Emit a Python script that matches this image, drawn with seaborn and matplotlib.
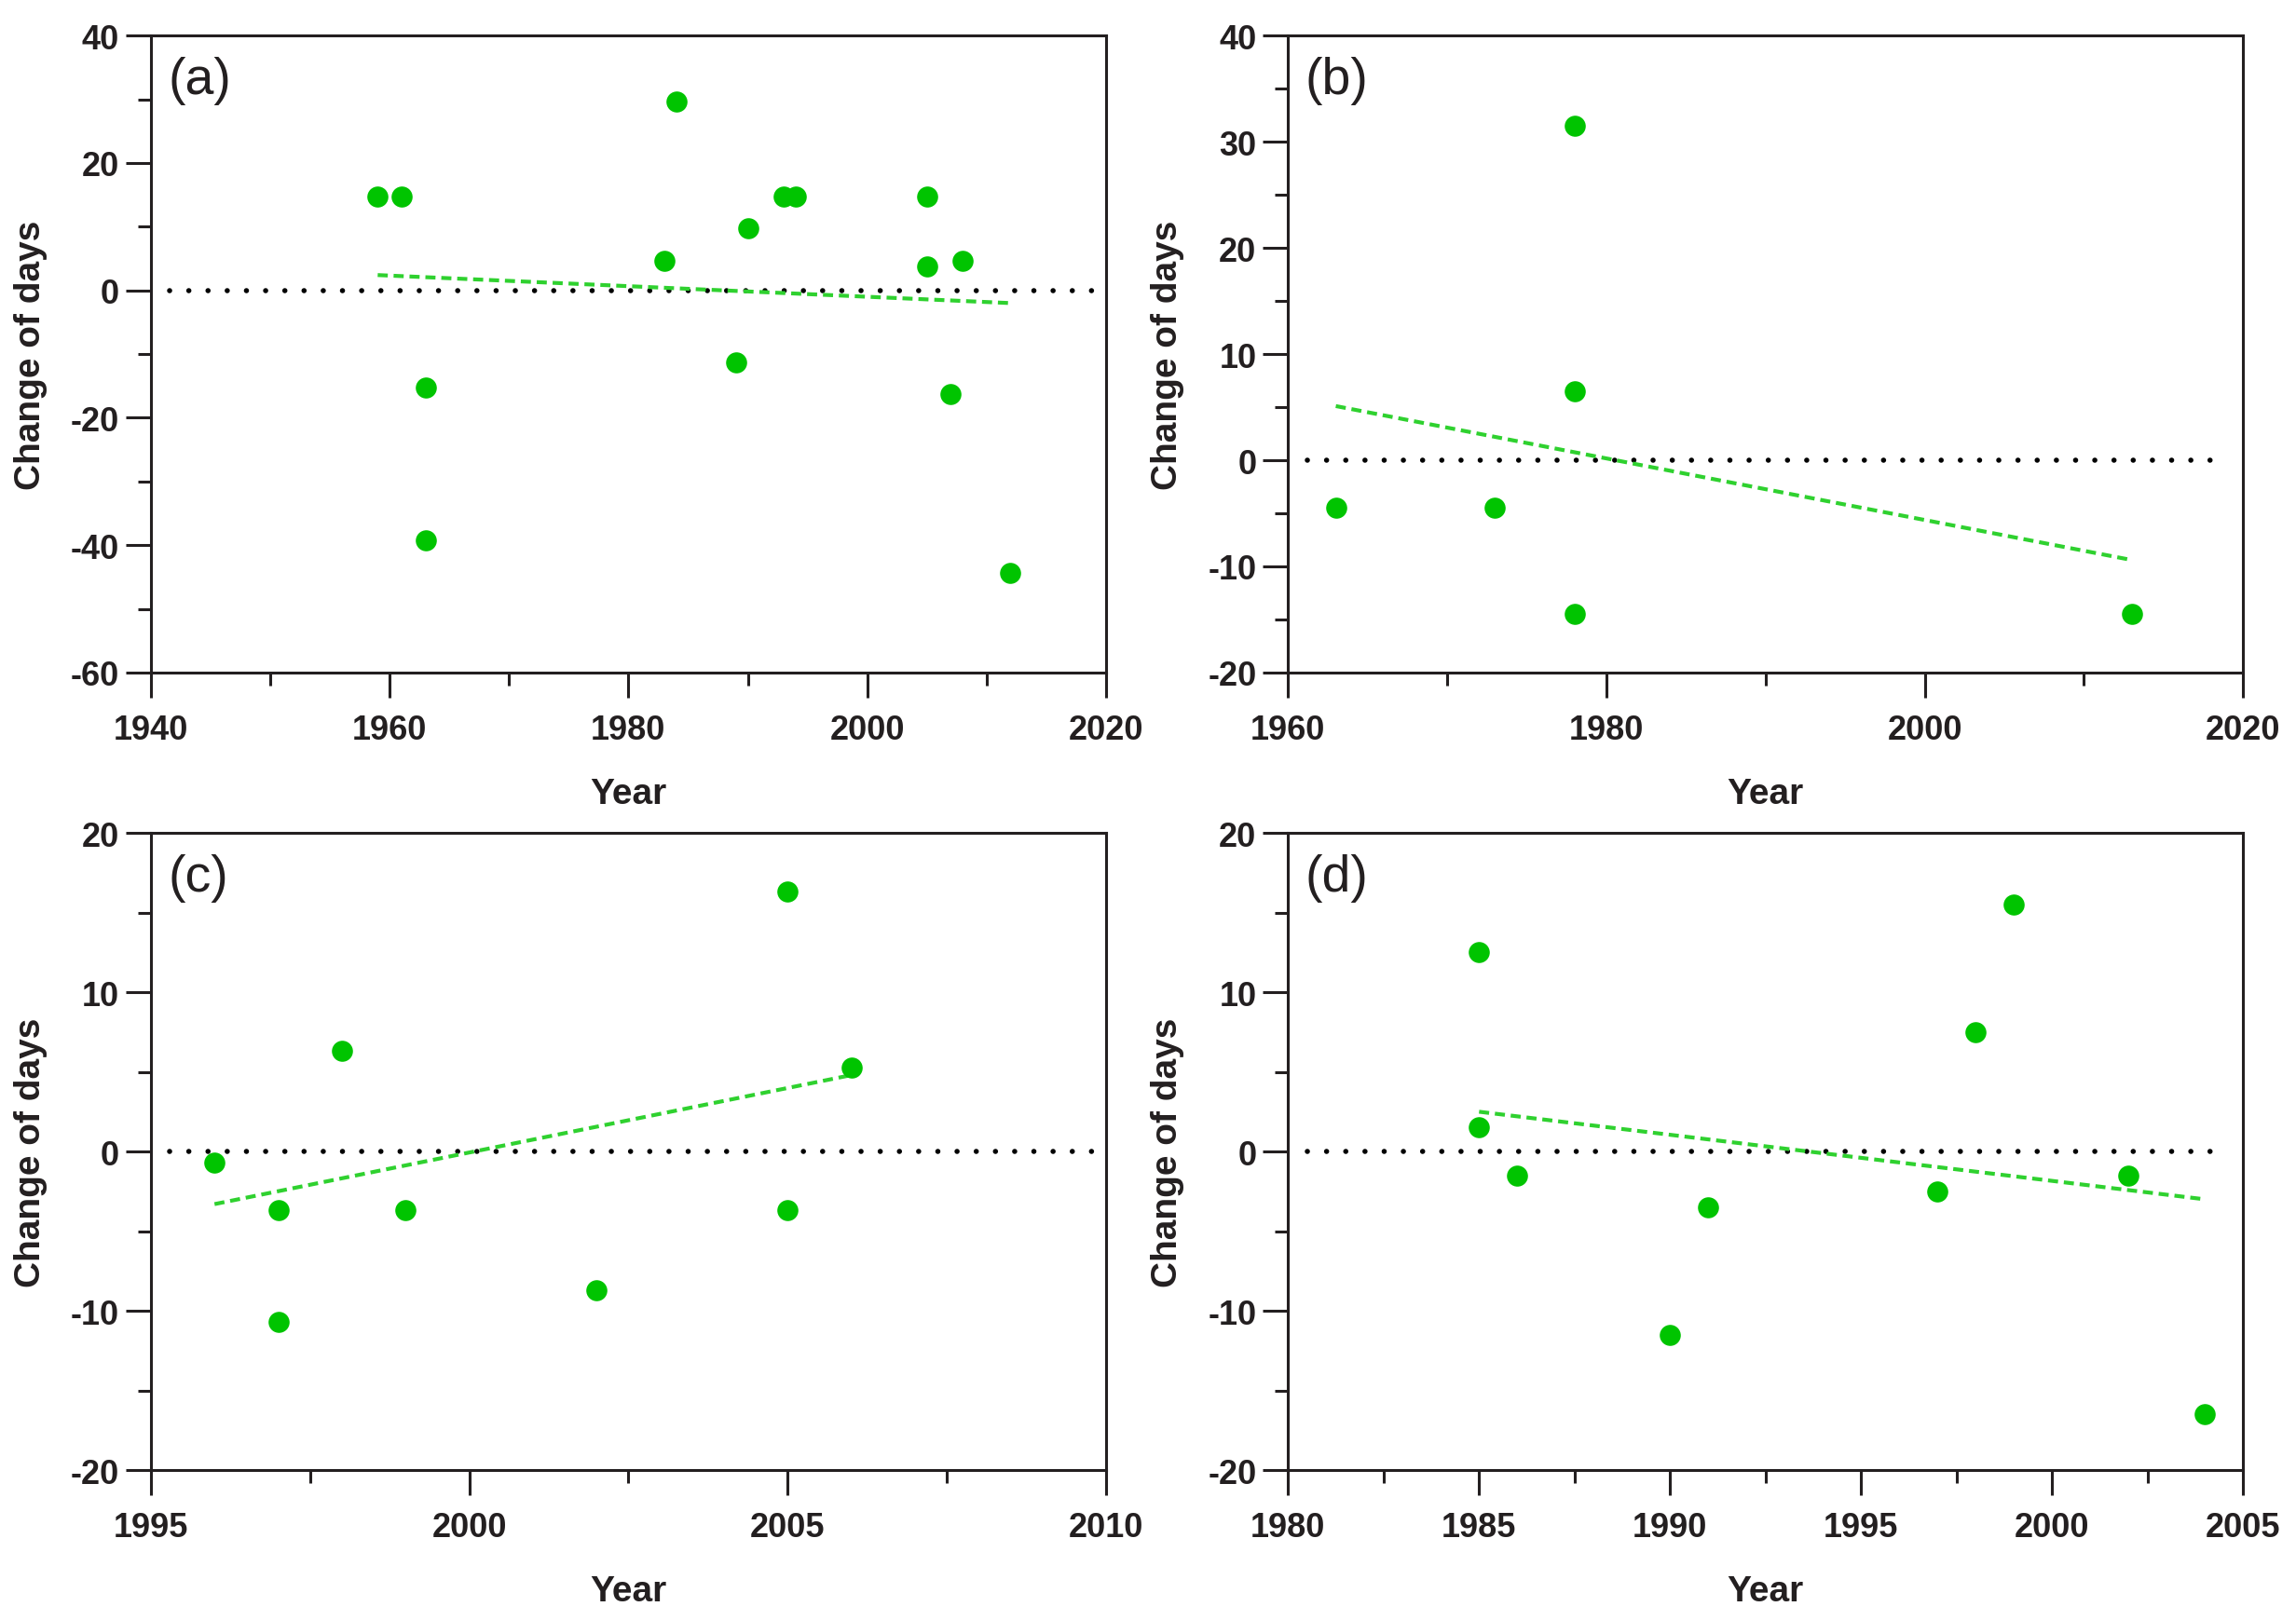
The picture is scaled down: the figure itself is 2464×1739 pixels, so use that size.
import matplotlib
matplotlib.use("Agg")
import matplotlib.pyplot as plt
from matplotlib.ticker import MultipleLocator
import seaborn as sns

# (a)
a_year = [1959, 1961, 1963, 1963, 1983, 1984, 1989, 1990, 1993, 1994, 2005, 2005, 2007, 2008, 2012]
a_change = [14.7, 14.7, -15.3, -39.3, 4.7, 29.7, -11.3, 9.7, 14.7, 14.7, 14.7, 3.7, -16.3, 4.7, -44.3]
a_trend_year = [1959, 2012]
a_trend_change = [2.4, -2.0]

# (b)
b_year = [1963, 1973, 1978, 1978, 1978, 2013]
b_change = [-4.5, -4.5, 31.5, 6.5, -14.5, -14.5]
b_trend_year = [1963, 2013]
b_trend_change = [5.1, -9.4]

# (c)
c_year = [1996, 1997, 1997, 1998, 1999, 2002, 2005, 2005, 2006]
c_change = [-0.7, -3.7, -10.7, 6.3, -3.7, -8.7, 16.3, -3.7, 5.3]
c_trend_year = [1996, 2006]
c_trend_change = [-3.3, 4.8]

# (d)
d_year = [1985, 1985, 1986, 1990, 1991, 1997, 1998, 1999, 2002, 2004]
d_change = [12.5, 1.5, -1.5, -11.5, -3.5, -2.5, 7.5, 15.5, -1.5, -16.5]
d_trend_year = [1985, 2004]
d_trend_change = [2.5, -3.0]

panels = [
    ("(a)", a_year, a_change, a_trend_year, a_trend_change, (1940, 2020, 20, 10), (-60, 40, 20, 10)),
    ("(b)", b_year, b_change, b_trend_year, b_trend_change, (1960, 2020, 20, 10), (-20, 40, 10, 5)),
    ("(c)", c_year, c_change, c_trend_year, c_trend_change, (1995, 2010, 5, 2.5), (-20, 20, 10, 5)),
    ("(d)", d_year, d_change, d_trend_year, d_trend_change, (1980, 2005, 5, 2.5), (-20, 20, 10, 5)),
]

sns.set_style("ticks")
plt.rcParams["font.family"] = ["Liberation Sans", "DejaVu Sans"]
plt.rcParams["axes.unicode_minus"] = False

ink = "#231f20"
dot_green = "#00c400"
line_green = "#2fd12f"

fig = plt.figure(figsize=(12.32, 8.7), dpi=200)
positions = [
    [0.0657, 0.5845, 0.416, 0.393],
    [0.561, 0.5845, 0.416, 0.393],
    [0.0657, 0.0925, 0.416, 0.393],
    [0.561, 0.0925, 0.416, 0.393],
]

for pos, (tag, yr, ch, tyr, tch, xl, yl) in zip(positions, panels):
    ax = fig.add_axes(pos)
    ax.axhline(0, xmin=0.02, xmax=0.985, color="black", linewidth=2.0,
               linestyle=(0, (0.01, 3.7)), dash_capstyle="round", zorder=1)
    sns.lineplot(x=tyr, y=tch, ax=ax, color=line_green, linewidth=1.5,
                 linestyle=(0, (2.6, 1.5)), zorder=2)
    sns.scatterplot(x=yr, y=ch, ax=ax, s=66, color=dot_green, linewidth=0, zorder=3)

    ax.set_xlim(xl[0], xl[1])
    ax.set_ylim(yl[0], yl[1])
    ax.xaxis.set_major_locator(MultipleLocator(xl[2]))
    ax.xaxis.set_minor_locator(MultipleLocator(xl[3]))
    ax.yaxis.set_major_locator(MultipleLocator(yl[2]))
    ax.yaxis.set_minor_locator(MultipleLocator(yl[3]))

    for sp in ax.spines.values():
        sp.set_color(ink)
        sp.set_linewidth(1.1)
    ax.tick_params(which="major", direction="out", length=9.7, width=1.1, color=ink)
    ax.tick_params(which="minor", direction="out", length=5, width=1.1, color=ink)
    ax.tick_params(axis="x", which="major", pad=6)
    ax.tick_params(axis="y", which="major", pad=2.5)
    for lab in ax.get_xticklabels() + ax.get_yticklabels():
        lab.set_fontweight("bold")
        lab.set_fontsize(13)
        lab.set_color(ink)

    ax.set_xlabel("Year", fontsize=14, fontweight="bold", color=ink, labelpad=12)
    ax.set_ylabel("Change of days", fontsize=14, fontweight="bold", color=ink, labelpad=9)
    ax.text(0.018, 0.93, tag, transform=ax.transAxes, fontsize=20, color=ink,
            ha="left", va="center")

fig.savefig("out.png", dpi=200)
plt.close(fig)
